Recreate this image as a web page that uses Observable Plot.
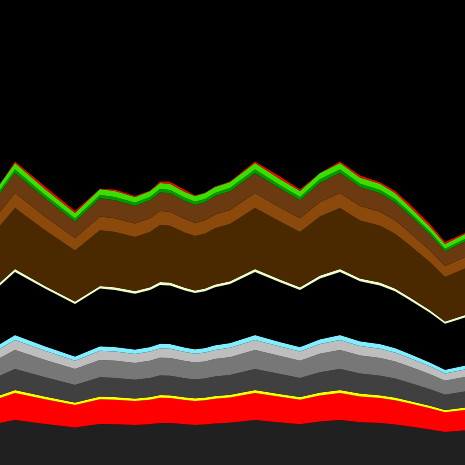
<!DOCTYPE html>
<html>
<head>
<meta charset="utf-8">
<script src="https://cdn.jsdelivr.net/npm/d3@7"></script>
<script src="https://cdn.jsdelivr.net/npm/@observablehq/plot@0.6"></script>
<style>
  html, body { margin: 0; padding: 0; background: #000; }
  #chart { width: 465px; height: 465px; overflow: hidden; }
</style>
</head>
<body>
<div id="chart"></div>
<script>
// Time index (weeks)
const weeks = [0, 3, 9, 15, 20, 23, 27, 30, 32, 34, 37, 39, 41, 43, 46, 51, 56, 60, 64, 68, 72, 76, 79, 82, 86, 89, 93];

// Series, stacked bottom to top
const seriesNames = ["base", "red", "yellow", "darkgray", "gray", "lightgray", "cyan", "gap", "cream", "darkbrown", "orange", "brown", "darkgreen", "lime", "redtop"];
const seriesColors = ["#202020", "#ff0000", "#ffff00", "#404040", "#777777", "#bebebe", "#80eeff", "#000000", "#eeffcc", "#4a2800", "#8b4a0b", "#6b3a10", "#009900", "#3ddd00", "#ff0000"];

const base      = [41.9, 45, 41.1, 37.5, 41.1, 40.8, 39.9, 40.8, 42.0, 41.9, 40.7, 40.1, 40.5, 41.4, 42.2, 45, 42.6, 40.8, 43.5, 45, 42.8, 41.9, 40.5, 38.4, 35.5, 32.9, 34.4];
const red       = [25.1, 27, 24.7, 22.5, 24.7, 24.5, 24.0, 24.5, 25.2, 25.1, 24.4, 24.0, 24.3, 24.9, 25.3, 27, 25.6, 24.5, 26.1, 27, 25.7, 25.1, 24.3, 23.1, 21.3, 19.8, 20.7];
const yellow    = [2.8, 3, 2.7, 2.5, 2.7, 2.7, 2.7, 2.7, 2.8, 2.8, 2.7, 2.7, 2.7, 2.8, 2.8, 3, 2.8, 2.7, 2.9, 3, 2.9, 2.8, 2.7, 2.6, 2.4, 2.2, 2.3];
const darkgray  = [19.5, 21, 19.2, 17.5, 19.2, 19.1, 18.6, 19.1, 19.6, 19.5, 19.0, 18.7, 18.9, 19.3, 19.7, 21, 19.9, 19.1, 20.3, 21, 20.0, 19.5, 18.9, 17.9, 16.6, 15.4, 16.1];
const gray      = [17.7, 19, 17.4, 15.9, 17.4, 17.2, 16.9, 17.2, 17.7, 17.7, 17.2, 16.9, 17.1, 17.5, 17.8, 19, 18.0, 17.2, 18.4, 19, 18.1, 17.7, 17.1, 16.2, 15.0, 13.9, 14.5];
const lightgray = [9.3, 10, 9.1, 8.3, 9.1, 9.1, 8.9, 9.1, 9.3, 9.3, 9.0, 8.9, 9.0, 9.2, 9.4, 10, 9.5, 9.1, 9.7, 10, 9.5, 9.3, 9.0, 8.5, 7.9, 7.3, 7.6];
const cyan      = [4.7, 5, 4.6, 4.2, 4.6, 4.5, 4.4, 4.5, 4.7, 4.7, 4.5, 4.5, 4.5, 4.6, 4.7, 5, 4.7, 4.5, 4.8, 5, 4.8, 4.7, 4.5, 4.3, 3.9, 3.7, 3.8];
const gap       = [58.6, 63, 57.6, 52.6, 57.6, 57.2, 55.9, 57.2, 58.8, 58.6, 57.0, 56.1, 56.7, 58.0, 59.0, 63, 59.7, 57.2, 60.9, 63, 59.9, 58.6, 56.7, 53.8, 49.7, 46.1, 48.2];
const cream     = [2.8, 3, 2.7, 2.5, 2.7, 2.7, 2.7, 2.7, 2.8, 2.8, 2.7, 2.7, 2.7, 2.8, 2.8, 3, 2.8, 2.7, 2.9, 3, 2.9, 2.8, 2.7, 2.6, 2.4, 2.2, 2.3];
const darkbrown = [56.8, 61, 55.7, 50.9, 55.7, 55.3, 54.1, 55.3, 57.0, 56.8, 55.1, 54.3, 54.9, 56.2, 57.2, 61, 57.8, 55.3, 59.0, 61, 58.0, 56.8, 54.9, 52.1, 48.1, 44.6, 46.7];
const orange    = [14.0, 15, 13.7, 12.5, 13.7, 13.6, 13.3, 13.6, 14.0, 14.0, 13.6, 13.4, 13.5, 13.8, 14.1, 15, 14.2, 13.6, 14.5, 15, 14.3, 14.0, 13.5, 12.8, 11.8, 11.0, 11.5];
const brown     = [18.6, 20, 18.3, 16.7, 18.3, 18.1, 17.7, 18.1, 18.7, 18.6, 18.1, 17.8, 18.0, 18.4, 18.7, 20, 18.9, 18.1, 19.3, 20, 19.0, 18.6, 18.0, 17.1, 15.8, 14.6, 15.3];
const darkgreen = [3.2, 3.5, 3.2, 2.9, 3.2, 3.2, 3.1, 3.2, 3.3, 3.3, 3.2, 3.1, 3.2, 3.2, 3.3, 3.5, 3.3, 3.2, 3.4, 3.5, 3.3, 3.3, 3.2, 3.0, 2.8, 2.6, 2.7];
const lime      = [6.1, 6.5, 6.0, 5.4, 6.0, 5.9, 5.8, 5.9, 6.1, 6.1, 5.9, 5.8, 5.9, 6.0, 6.1, 6.5, 6.2, 5.9, 6.3, 6.5, 6.2, 6.1, 5.9, 5.6, 5.1, 4.8, 5.0];
const redtop    = [0, 1.5, 2.5, 2, 0.3, 1.5, 1, 0.3, 1.5, 2, 2, 0.5, 0.3, 0.5, 0.3, 1.5, 2.5, 1.5, 0, 1.5, 2, 1.5, 2, 2.5, 2.5, 2, 1];

const seriesValues = [base, red, yellow, darkgray, gray, lightgray, cyan, gap, cream, darkbrown, orange, brown, darkgreen, lime, redtop];

const table = [];
seriesNames.forEach((name, i) => {
  weeks.forEach((w, j) => table.push({week: w, series: name, value: seriesValues[i][j]}));
});

const chart = Plot.plot({
  width: 465,
  height: 465,
  margin: 0,
  style: {background: "#000"},
  x: {domain: [0, 93], axis: null},
  y: {domain: [0, 465], axis: null},
  color: {domain: seriesNames, range: seriesColors},
  marks: [
    Plot.areaY(table, {
      x: "week",
      y: "value",
      z: "series",
      fill: "series",
      order: seriesNames,
      curve: "linear"
    })
  ]
});
document.getElementById("chart").appendChild(chart);
</script>
</body>
</html>
